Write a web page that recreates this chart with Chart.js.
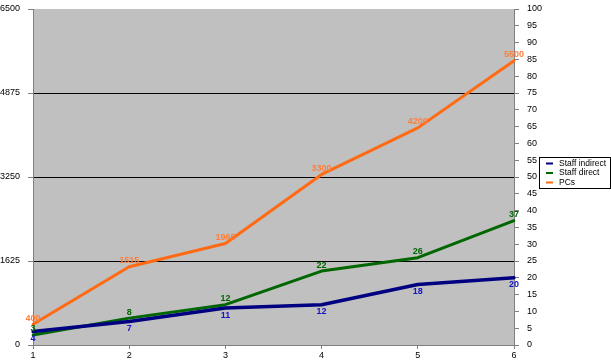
<!DOCTYPE html>
<html><head><meta charset="utf-8">
<script src="https://cdn.jsdelivr.net/npm/chart.js@4"></script>
<style>html,body{margin:0;padding:0;background:#fff}#wrap{width:611px;height:360px}</style>
</head><body><div id="wrap"><canvas id="c" width="611" height="360"></canvas></div>
<script>
const categories = ['1','2','3','4','5','6'];
const staffIndirect = [4, 7, 11, 12, 18, 20];
const staffDirect = [3, 8, 12, 22, 26, 37];
const pcs = [400, 1515, 1965, 3300, 4200, 5500];
const seriesNames = ['Staff indirect', 'Staff direct', 'PCs'];

const FONT = '"Liberation Sans", Arial, sans-serif';

const bgPlugin = {
  id: 'bg',
  beforeDraw(chart) {
    const {ctx, chartArea: a} = chart;
    ctx.save();
    ctx.fillStyle = '#C0C0C0';
    ctx.fillRect(a.left, a.top, a.right - a.left, a.bottom - a.top);
    ctx.restore();
  }
};

const labelPlugin = {
  id: 'dlabels',
  afterDatasetsDraw(chart) {
    const ctx = chart.ctx;
    ctx.save();
    ctx.font = 'bold 9px ' + FONT;
    ctx.textAlign = 'center';
    ctx.textBaseline = 'middle';
    chart.data.datasets.forEach((ds, i) => {
      const meta = chart.getDatasetMeta(i);
      meta.data.forEach((pt, j) => {
        ctx.fillStyle = ds.labelColor;
        const dy = ds.labelPos === 'below' ? 7 : -6;
        ctx.fillText(String(ds.data[j]), pt.x, pt.y + dy);
      });
    });
    ctx.restore();
  }
};

const legendPlugin = {
  id: 'boxLegend',
  afterDraw(chart) {
    const ctx = chart.ctx;
    const a = chart.chartArea;
    const x0 = a.right + 25, y0 = 157, w = 71, h = 31;
    ctx.save();
    ctx.fillStyle = '#fff';
    ctx.fillRect(x0 + 0.5, y0 + 0.5, w, h);
    ctx.strokeStyle = '#000';
    ctx.lineWidth = 1;
    ctx.strokeRect(x0 + 0.5, y0 + 0.5, w, h);
    ctx.font = '8.5px ' + FONT;
    ctx.textBaseline = 'middle';
    ctx.textAlign = 'left';
    chart.data.datasets.forEach((ds, i) => {
      const y = y0 + 6 + i * 9.5;
      ctx.strokeStyle = ds.borderColor;
      ctx.lineWidth = 2;
      ctx.beginPath();
      ctx.moveTo(x0 + 7, y + 0.5);
      ctx.lineTo(x0 + 14, y + 0.5);
      ctx.stroke();
      ctx.fillStyle = '#000';
      ctx.fillText(ds.label, x0 + 20, y + 0.5);
    });
    ctx.restore();
  }
};

function zeroPad(s) { s.paddingTop = 0; s.paddingBottom = 0; s.paddingLeft = 0; s.paddingRight = 0; }

new Chart(document.getElementById('c'), {
  type: 'line',
  data: {
    labels: categories,
    datasets: [
      {label: seriesNames[0], data: staffIndirect, yAxisID: 'y1', borderColor: '#000080', labelColor: '#1414C8', labelPos: 'below', borderWidth: 3.5},
      {label: seriesNames[1], data: staffDirect, yAxisID: 'y1', borderColor: '#006600', labelColor: '#006600', labelPos: 'above', borderWidth: 3},
      {label: seriesNames[2], data: pcs, yAxisID: 'y', borderColor: '#FF6A13', labelColor: '#FF7F3A', labelPos: 'above', borderWidth: 3}
    ]
  },
  options: {
    responsive: false,
    animation: false,
    devicePixelRatio: 1,
    layout: {padding: {top: 9, left: 0, right: 0, bottom: 0}},
    elements: {point: {radius: 0}, line: {tension: 0, borderCapStyle: 'round', borderJoinStyle: 'round'}},
    plugins: {legend: {display: false}, tooltip: {enabled: false}},
    scales: {
      x: {
        offset: false,
        grid: {drawOnChartArea: false, drawTicks: true, tickLength: 4, color: '#808080'},
        border: {color: '#808080'},
        ticks: {padding: 1, color: '#000', font: {family: FONT, size: 9}, maxRotation: 0},
        afterFit(s) { s.height = 15; zeroPad(s); }
      },
      y: {
        position: 'left', min: 0, max: 6500,
        ticks: {stepSize: 1625, padding: 8, color: '#000', font: {family: FONT, size: 9}, callback: (v) => String(v)},
        grid: {
          tickLength: 5,
          tickColor: '#808080',
          color: (c) => (c.tick && c.tick.value > 0 && c.tick.value < 6500) ? '#000' : 'rgba(0,0,0,0)'
        },
        border: {color: '#808080'},
        afterFit(s) { s.width = 33; zeroPad(s); }
      },
      y1: {
        position: 'right', min: 0, max: 100,
        ticks: {stepSize: 5, padding: 8, color: '#000', font: {family: FONT, size: 9}},
        grid: {drawOnChartArea: false, tickLength: 5, color: '#808080'},
        border: {color: '#808080'},
        afterFit(s) { s.width = 97; zeroPad(s); }
      }
    }
  },
  plugins: [bgPlugin, labelPlugin, legendPlugin]
});
</script>
</body></html>
